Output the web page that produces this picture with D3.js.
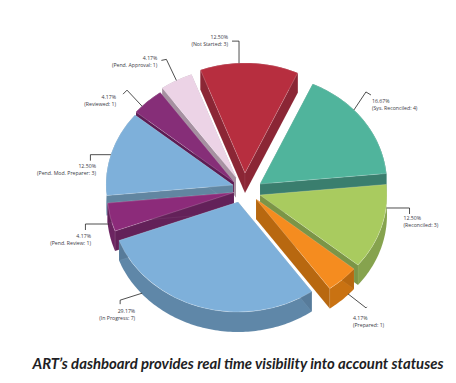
<!DOCTYPE html>
<html lang="en">
<head>
    <meta charset="UTF-8">
    <title>Account statuses</title>
    <script src="https://cdn.jsdelivr.net/npm/d3@7"></script>
</head>
<style>
    body { margin: 0; background: #fff; }
    svg { display: block; }
</style>
<body>
    <div id="graphDiv"></div>

    <script>
        // Chart data, clockwise from the red slice
        var categories = ["Not Started", "Sys. Reconciled", "Reconciled", "Prepared", "In Progress",
                          "Pend. Review", "Pend. Mod. Preparer", "Reviewed", "Pend. Approval"]
        var counts = [3, 4, 3, 1, 7, 1, 3, 1, 1]
        var caption = "ART\u2019s dashboard provides real time visibility into account statuses"

        // Colours
        var topColors = ["#b72e3f", "#50b49c", "#a9cb5f", "#f58c1f", "#7eb0da", "#8c2b7a", "#7eb0da", "#862e78", "#ecd3e6"]
        var wallColors = ["#98293a", "#3f8a78", "#86a34e", "#c97212", "#5f87a8", "#6c2461", "#6a92b0", "#661f5c", "#b59fb0"]

        // Pie dimensions
        var width = 456
        var height = 383
        var centerX = 240
        var centerY = 187
        var radiusX = 127
        var radiusY = 110
        var depth = 20
        var firstAngle = -20.5 * Math.PI / 180

        // How far each slice is pulled out of the pie
        var explodeX = [5, 20, 20, 16, -2, -6, -7, -6, -4]
        var explodeY = [-14, -3, 8, 12, 15, 5.5, -2, -5, -9.5]

        // Leader lines: angle on the rim, how far down the wall, elbow, end, text offset
        var lineGap = 7
        var leaders = [
            { angle: -2.7, drop: 0, elbow: [0, -22], end: [-7, -22], text: [-4, -2.5] },
            { angle: 47.7, drop: 0, elbow: [12, -18], end: [17, -15], text: [1, 8] },
            { angle: 95, drop: 0.17, elbow: [23, 0], end: [23, 6], text: [-6, 6.5] },
            { angle: 133.6, drop: 0.95, elbow: [18, 14], end: [19, 13], text: [-14, 13] },
            { angle: 229, drop: 0.95, elbow: [-22, 7], end: [-22, 11], text: [15, 8.5] },
            { angle: 260, drop: 0.62, elbow: [-23.5, 0], end: [-23.5, 6], text: [5.5, 7.5] },
            { angle: 286, drop: 0, elbow: [-20.5, 0], end: [-20.5, 6], text: [5.5, 7] },
            { angle: 313.6, drop: 0, elbow: [-15, -16], end: [-19, -12], text: [-7, 5] },
            { angle: 332, drop: 0, elbow: [-10, -21], end: [-15, -20], text: [-4, 0] }
        ]

        var graph = d3.select('#graphDiv')
                        .append('svg')
                        .attr('width', width)
                        .attr('height', height)

        var total = d3.sum(counts)
        var percent = d3.format(".2f")

        var pie = d3.pie()
                    .sort(null)
                    .startAngle(firstAngle)
                    .endAngle(firstAngle + 2 * Math.PI)

        var slices = pie(counts).map((d, i) => {
            d.index = i
            d.tipX = centerX + explodeX[i]
            d.tipY = centerY + explodeY[i]
            d.mid = (d.startAngle + d.endAngle) / 2
            return d
        })

        // Point on the squashed rim of a slice
        var rimX = (d, a) => d.tipX + radiusX * Math.sin(a)
        var rimY = (d, a) => d.tipY - radiusY * Math.cos(a)

        var arc = d3.arc().innerRadius(0).outerRadius(radiusX)
        var wallLine = d3.line()

        // Back slices first so that the front ones cover them
        var drawOrder = slices.slice().sort((a, b) => d3.ascending(-Math.cos(a.mid), -Math.cos(b.mid)))

        var sliceGroups = graph.append('g')
            .selectAll('g')
            .data(drawOrder)
            .join('g')

        // Outer wall
        sliceGroups.append('path')
            .attr('fill', d => wallColors[d.index])
            .attr('stroke', 'rgba(255,255,255,0.12)')
            .attr('stroke-width', 0.5)
            .attr('d', d => {
                var angles = d3.range(d.startAngle, d.endAngle, 0.02).concat([d.endAngle])
                return d3.area()
                    .x(a => rimX(d, a))
                    .y0(a => rimY(d, a))
                    .y1(a => rimY(d, a) + depth)(angles)
            })

        // Two straight walls
        sliceGroups.selectAll('.side')
            .data(d => [d.startAngle, d.endAngle].map(a => ({ slice: d, angle: a })))
            .join('path')
            .attr('class', 'side')
            .attr('fill', s => d3.color(wallColors[s.slice.index]).darker(0.25))
            .attr('stroke', 'rgba(255,255,255,0.12)')
            .attr('stroke-width', 0.5)
            .attr('d', s => {
                var d = s.slice
                return wallLine([
                    [d.tipX, d.tipY],
                    [rimX(d, s.angle), rimY(d, s.angle)],
                    [rimX(d, s.angle), rimY(d, s.angle) + depth],
                    [d.tipX, d.tipY + depth]
                ]) + 'Z'
            })

        // Top face
        sliceGroups.append('path')
            .attr('transform', d => `translate(${d.tipX}, ${d.tipY}) scale(1, ${radiusY / radiusX})`)
            .attr('d', arc)
            .attr('fill', d => topColors[d.index])
            .attr('stroke', 'rgba(255,255,255,0.35)')
            .attr('stroke-width', 0.5)
            .attr('vector-effect', 'non-scaling-stroke')

        // Leaders and labels
        var labels = graph.append('g')
            .selectAll('g')
            .data(slices)
            .join('g')
            .attr('transform', d => {
                var a = leaders[d.index].angle * Math.PI / 180
                return `translate(${rimX(d, a)}, ${rimY(d, a) + leaders[d.index].drop * depth})`
            })

        labels.append('path')
            .attr('fill', 'none')
            .attr('stroke', '#222')
            .attr('stroke-width', 0.8)
            .attr('d', d => wallLine([[0, 0], leaders[d.index].elbow, leaders[d.index].end]))

        var labelText = labels.append('text')
            .attr('font-family', '"Open Sans", sans-serif')
            .attr('font-size', 5.2)
            .attr('fill', '#3a3a44')
            .attr('text-anchor', d => Math.sin(leaders[d.index].angle * Math.PI / 180) > 0 ? 'start' : 'end')

        labelText.append('tspan')
            .attr('x', d => leaders[d.index].end[0] + leaders[d.index].text[0])
            .attr('y', d => leaders[d.index].end[1] + leaders[d.index].text[1])
            .text(d => percent(d.value / total * 100) + '%')

        labelText.append('tspan')
            .attr('x', d => leaders[d.index].end[0] + leaders[d.index].text[0])
            .attr('y', d => leaders[d.index].end[1] + leaders[d.index].text[1] + lineGap)
            .text(d => `(${categories[d.index]}: ${d.value})`)

        graph.append('text')
            .attr('x', 238)
            .attr('y', 369)
            .attr('text-anchor', 'middle')
            .attr('font-family', 'Lato, sans-serif')
            .attr('font-style', 'italic')
            .attr('font-weight', 700)
            .attr('font-size', 14.9)
            .attr('fill', '#1e1e24')
            .text(caption)
    </script>
</body>
</html>
